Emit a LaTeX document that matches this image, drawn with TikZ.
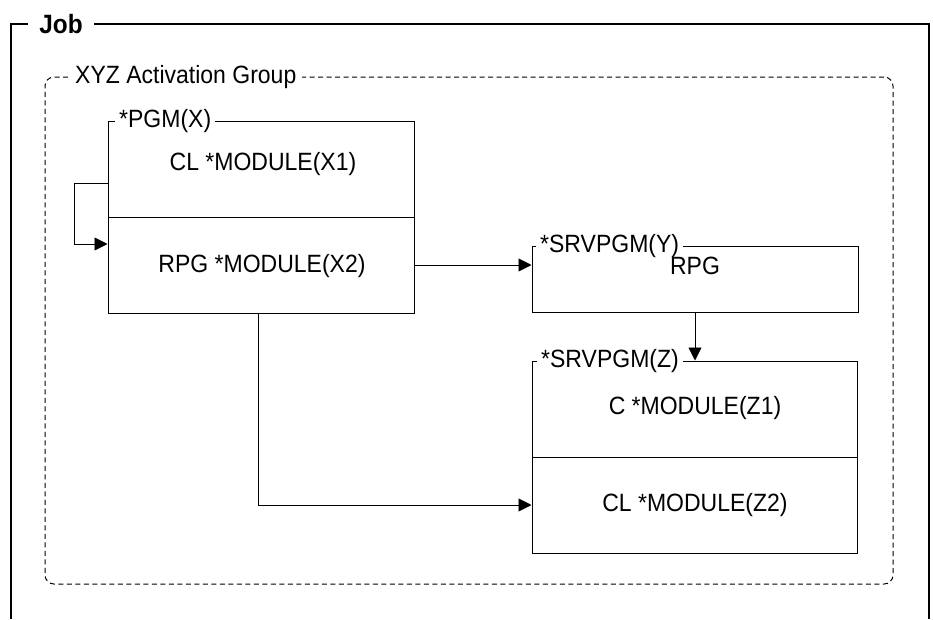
\documentclass[tikz,border=0pt]{standalone}
\usepackage{fontspec}
\setmainfont{Liberation Sans}
\newfontfamily\tallsans[FakeStretch=0.92]{Liberation Sans}
\usetikzlibrary{arrows.meta,calc}
\begin{document}
\begin{tikzpicture}[x=1pt,y=-1pt,
  box/.style={draw, line width=1pt, rectangle, inner sep=0pt},
  lbl/.style={font=\tallsans\fontsize{25}{29}\selectfont, inner sep=0pt},
  ttl/.style={font=\tallsans\fontsize{25}{29}\selectfont, fill=white, inner xsep=4pt, inner ysep=0pt, anchor=west},
  arr/.style={line width=0.9pt, -{Triangle[length=13pt,width=13pt]}},
  grp/.style={draw, line width=1pt, dash pattern=on 5pt off 3.5pt, rounded corners=9pt, rectangle, inner sep=0pt}]
\useasboundingbox (0,0) rectangle (933,619);
\fill[white] (0,0) rectangle (933,619);

% Job frame
\coordinate (jbl) at (11,619);
\coordinate (jbr) at (929,619);
\draw[line width=1.6pt] (jbl) -- (11,24) -- (929,24) -- (jbr);
\node[font=\tallsans\bfseries\fontsize{26.5}{30}\selectfont, fill=white, inner xsep=11pt, inner ysep=0pt] (job) at (61,24) {Job};

% Activation group
\node[grp, minimum width=848pt, minimum height=507pt] (grp) at (469,330.5) {};
\node[ttl, inner xsep=6pt] (grpt) at (69,77) {XYZ Activation Group};

% Boxes
\node[box, minimum width=306pt, minimum height=96pt] (X1) at (261,169) {};
\node[box, minimum width=306pt, minimum height=96pt] (X2) at (261,265) {};
\node[box, minimum width=326pt, minimum height=66pt] (Y) at (695,279) {};
\node[box, minimum width=325pt, minimum height=96pt] (Z1) at (694.5,409) {};
\node[box, minimum width=325pt, minimum height=96pt] (Z2) at (694.5,505) {};

% Box titles
\node[ttl] (Xt) at (115,121) {*PGM(X)};
\node[ttl] (Yt) at (536,246) {*SRVPGM(Y)};
\node[ttl] (Zt) at (537,361) {*SRVPGM(Z)};

% Box texts
\node[lbl] (x1t) at (263,164) {CL *MODULE(X1)};
\node[lbl] (x2t) at (262,266) {RPG *MODULE(X2)};
\node[lbl] (yt) at (695,266) {RPG};
\node[lbl] (z1t) at (695,408) {C *MODULE(Z1)};
\node[lbl] (z2t) at (695,505) {CL *MODULE(Z2)};

% Connectors
\draw[arr] ([yshift=-14pt]X1.west) -- ++(-33,0) |- ([yshift=21pt]X2.west);
\draw[arr] (X2.east) -- (X2.east -| Y.west);
\draw[arr] (Y.south) -- (Y.south |- Z1.north);
\draw[arr] ([xshift=-3pt]X2.south) |- (Z2.west);
\end{tikzpicture}
\end{document}
